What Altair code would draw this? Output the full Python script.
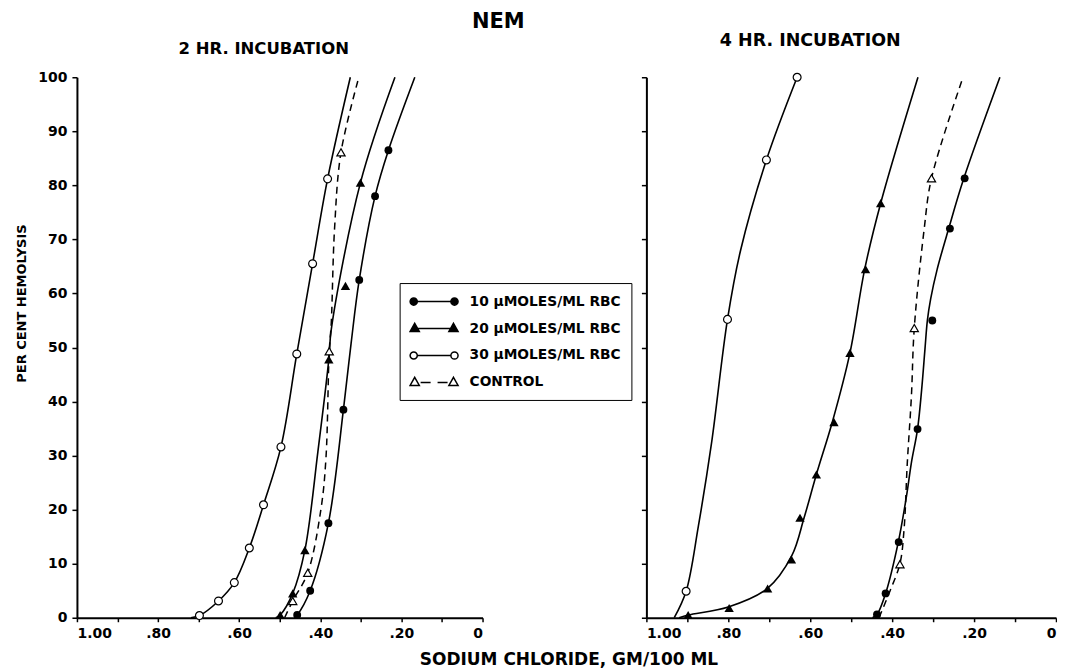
import altair as alt
import pandas as pd

FONT = "DejaVu Sans"

# ---------------- 2 HR. INCUBATION : measured points ----------------
h2_10_x = [0.457, 0.425, 0.380, 0.343, 0.304, 0.265, 0.232]
h2_10_y = [0.5, 5.0, 17.5, 38.5, 62.5, 78.0, 86.5]
h2_20_x = [0.499, 0.468, 0.438, 0.379, 0.338, 0.301]
h2_20_y = [0.5, 4.5, 12.5, 47.8, 61.4, 80.5]
h2_30_x = [0.698, 0.651, 0.612, 0.575, 0.540, 0.497, 0.458, 0.419, 0.382]
h2_30_y = [0.4, 3.1, 6.5, 12.9, 20.9, 31.6, 48.8, 65.5, 81.2]
h2_c_x = [0.468, 0.431, 0.378, 0.349]
h2_c_y = [3.1, 8.3, 49.3, 86.1]

# ---------------- 2 HR. INCUBATION : drawn curves ----------------
h2_10_cx = [0.464, 0.457, 0.425, 0.380, 0.343, 0.324, 0.304, 0.265, 0.232, 0.167]
h2_10_cy = [0, 0.5, 5, 17.5, 38.5, 50.8, 62.5, 78, 86.5, 100]
h2_20_cx = [0.510, 0.499, 0.468, 0.438, 0.406, 0.379, 0.373, 0.301, 0.216]
h2_20_cy = [0, 0.5, 4.5, 12.5, 30.7, 47.8, 53.3, 80.5, 100]
h2_30_cx = [0.719, 0.698, 0.651, 0.612, 0.575, 0.540, 0.497, 0.458, 0.419, 0.382, 0.326]
h2_30_cy = [0, 0.4, 3.1, 6.5, 12.9, 20.9, 31.6, 48.8, 65.5, 81.2, 100]
h2_c_cx = [0.488, 0.468, 0.431, 0.398, 0.386, 0.378, 0.373, 0.365, 0.349, 0.305]
h2_c_cy = [0, 3.1, 8.3, 20.3, 29.6, 49.3, 54.5, 71.8, 86.1, 100]

# ---------------- 4 HR. INCUBATION : measured points ----------------
h4_10_x = [0.437, 0.416, 0.384, 0.338, 0.302, 0.259, 0.223]
h4_10_y = [0.6, 4.5, 14.0, 34.9, 55.0, 72.0, 81.3]
h4_20_x = [0.898, 0.798, 0.704, 0.646, 0.625, 0.585, 0.542, 0.503, 0.465, 0.428]
h4_20_y = [0.5, 1.8, 5.4, 10.8, 18.5, 26.5, 36.2, 49.0, 64.5, 76.7]
h4_30_x = [0.903, 0.802, 0.707, 0.632]
h4_30_y = [4.9, 55.2, 84.7, 100.0]
h4_c_x = [0.381, 0.346, 0.304]
h4_c_y = [9.9, 53.6, 81.3]

# ---------------- 4 HR. INCUBATION : drawn curves ----------------
h4_10_cx = [0.448, 0.437, 0.416, 0.385, 0.365, 0.353, 0.338, 0.328, 0.320, 0.314,
            0.306, 0.290, 0.262, 0.225, 0.137]
h4_10_cy = [0, 0.6, 4.5, 14.0, 22.5, 28.7, 34.9, 42.2, 49.6, 55.0,
            59.0, 64.5, 72.0, 81.3, 100]
h4_20_cx = [0.920, 0.898, 0.800, 0.705, 0.645, 0.615, 0.585, 0.545, 0.503, 0.467, 0.428, 0.337]
h4_20_cy = [0, 0.5, 2.0, 5.4, 11.5, 18.5, 26.5, 36.5, 49.0, 64.5, 76.7, 100]
h4_30_cx = [0.932, 0.903, 0.873, 0.841, 0.802, 0.770, 0.707, 0.632]
h4_30_cy = [0, 4.9, 17.0, 32.3, 55.2, 68.0, 84.7, 100]
h4_c_cx = [0.432, 0.405, 0.381, 0.371, 0.363, 0.353, 0.346, 0.322, 0.304, 0.227]
h4_c_cy = [0, 5, 10, 16.3, 28.7, 41, 53.6, 71.8, 81.3, 100]

series_keys = ["10", "20", "30", "C"]
legend_labels = ["10 \u00b5MOLES/ML RBC", "20 \u00b5MOLES/ML RBC",
                 "30 \u00b5MOLES/ML RBC", "CONTROL"]
x_ticks = [0.0, 0.1, 0.2, 0.3, 0.4, 0.5, 0.6, 0.7, 0.8, 0.9, 1.0]
y_ticks = [0, 10, 20, 30, 40, 50, 60, 70, 80, 90, 100]


def df(xs, ys, s):
    return pd.DataFrame({"x": xs, "y": ys, "s": s})


# ---------- custom legend symbols (marker - line - marker) ----------
U = 7.5  # px per path unit for symbol size 225


def f(v):
    return f"{v / U:.3f}"


def circ(cx, r):
    return (f"M{f(cx - r)},0A{f(r)},{f(r)} 0 1,0 {f(cx + r)},0"
            f"A{f(r)},{f(r)} 0 1,0 {f(cx - r)},0Z")


def tri(cx, hb, top, bot):
    return f"M{f(cx)},{f(top)}L{f(cx + hb)},{f(bot)}L{f(cx - hb)},{f(bot)}Z"


def seg(a, b):
    return f"M{f(a)},0L{f(b)},0"


L_END, R_END, CR = -8.0, 40.0, 3.6
TH, TT, TB = 4.6, -5.2, 3.0
p_circle_solid = circ(L_END + CR, CR) + seg(L_END + 2 * CR, R_END - 2 * CR) + circ(R_END - CR, CR)
p_tri_solid = (tri(L_END + TH, TH, TT, TB) + seg(L_END + TH, R_END - TH)
               + tri(R_END - TH, TH, TT, TB))
edge = TH * (0 - TT) / (TB - TT)
lt, rt = L_END + TH, R_END - TH
p_tri_dash = (tri(lt, TH, TT, TB) + seg(lt + edge + 3, lt + edge + 13)
              + seg(rt - edge - 13, rt - edge - 3) + tri(rt, TH, TT, TB))
legend_paths = [p_circle_solid, p_tri_solid, p_circle_solid, p_tri_dash]
legend_fills = ["black", "black", "white", "white"]
legend_strokes = ["black", "black", "black", "black"]

x_label_expr = ("datum.value == 0 ? '0' : (round(datum.value*10) % 2 == 1 ? '' : "
                "(datum.value == 1 ? '1.00' : '.' + format(datum.value*100, '02d')))")


def make_panel(pts, curves, title, t_offset, t_dx, t_size, left):
    cdf = pd.concat([df(cx, cy, k) for k, (cx, cy) in zip(series_keys, curves)])
    pdf = pd.concat([df(px, py, k) for k, (px, py) in zip(series_keys, pts)])

    common_x = dict(
        values=x_ticks, labelExpr=x_label_expr, labelOverlap=False,
        tickSize=4, tickWidth=1.5, domainWidth=2, domainColor="black", tickColor="black",
        labelFont=FONT, labelFontSize=14, labelFontWeight="bold", labelColor="black",
        labelPadding=5, grid=False)
    if left:
        x_axis = alt.Axis(
            title="SODIUM  CHLORIDE, GM/100  ML",
            titleFont=FONT, titleFontSize=17, titleFontWeight="bold", titleColor="black",
            titleX=492, titleAlign="center", titlePadding=11, **common_x)
    else:
        x_axis = alt.Axis(title=None, **common_x)
    common_y = dict(values=y_ticks, tickSize=5, tickWidth=1.5, domainWidth=2,
                    domainColor="black", tickColor="black", grid=False)
    if left:
        y_axis = alt.Axis(
            labelFont=FONT, labelFontSize=14, labelFontWeight="bold",
            labelColor="black", labelPadding=5,
            title="PER CENT HEMOLYSIS", titleFont=FONT, titleFontSize=13,
            titleFontWeight="bold", titleColor="black", titleY=226, titlePadding=9,
            **common_y)
    else:
        y_axis = alt.Axis(labels=False, title=None, **common_y)

    xs = alt.Scale(domain=[0, 1], reverse=True, nice=False, zero=False)
    ys = alt.Scale(domain=[0, 100], nice=False, zero=False)
    X = alt.X("x:Q", scale=xs, axis=x_axis)
    Y = alt.Y("y:Q", scale=ys, axis=y_axis)

    base_c = alt.Chart(cdf)
    solid = base_c.transform_filter("datum.s != 'C'").mark_line(
        interpolate="catmull-rom", color="black", strokeWidth=1.6
    ).encode(x=X, y=Y, detail="s:N", order="y:Q")
    dashed = base_c.transform_filter("datum.s == 'C'").mark_line(
        interpolate="catmull-rom", color="black", strokeWidth=1.5, strokeDash=[7, 5]
    ).encode(x=X, y=Y, order="y:Q")

    base_p = alt.Chart(pdf)
    m10 = base_p.transform_filter("datum.s == '10'").mark_point(
        shape="circle", filled=True, color="black", size=62, opacity=1).encode(x=X, y=Y)
    m20 = base_p.transform_filter("datum.s == '20'").mark_point(
        shape="triangle-up", filled=True, color="black", size=88, opacity=1).encode(x=X, y=Y)
    m30 = base_p.transform_filter("datum.s == '30'").mark_point(
        shape="circle", filled=True, fill="white", stroke="black", strokeWidth=1.2,
        size=62, opacity=1).encode(x=X, y=Y)
    mc = base_p.transform_filter("datum.s == 'C'").mark_point(
        shape="triangle-up", filled=True, fill="white", stroke="black", strokeWidth=1.2,
        size=68, opacity=1).encode(x=X, y=Y)

    layers = [solid, dashed, m10, m20, m30, mc]

    if left:
        leg_df = pd.DataFrame({"lab": legend_labels,
                               "x": [p[0][0] for p in pts],
                               "y": [p[1][0] for p in pts]})
        leg_kw = dict(
            title=None, orient="none", legendX=323, legendY=206,
            strokeColor="black", fillColor="white", padding=10,
            symbolSize=225, labelOffset=43, rowPadding=11,
            symbolStrokeWidth=1.5, symbolOpacity=1,
            labelFont=FONT, labelFontSize=13.8, labelFontWeight="bold", labelColor="black",
            labelLimit=300,
        )
        leg = alt.Chart(leg_df).mark_point(opacity=0, filled=False, strokeWidth=1.5).encode(
            x=alt.X("x:Q", scale=xs, axis=x_axis),
            y=alt.Y("y:Q", scale=ys, axis=y_axis),
            shape=alt.Shape("lab:N", scale=alt.Scale(domain=legend_labels, range=legend_paths),
                            legend=alt.Legend(**leg_kw)),
            fill=alt.Fill("lab:N", scale=alt.Scale(domain=legend_labels, range=legend_fills),
                          legend=alt.Legend(**leg_kw)),
            stroke=alt.Stroke("lab:N", scale=alt.Scale(domain=legend_labels, range=legend_strokes),
                              legend=alt.Legend(**leg_kw)),
        )
        layers.append(leg)

    return alt.layer(*layers).properties(
        width=406 if left else 410, height=541,
        title=alt.TitleParams(title, font=FONT, fontSize=t_size, fontWeight="bold",
                              color="black", anchor="middle", dx=t_dx, offset=t_offset),
    )


left = make_panel(
    [(h2_10_x, h2_10_y), (h2_20_x, h2_20_y), (h2_30_x, h2_30_y), (h2_c_x, h2_c_y)],
    [(h2_10_cx, h2_10_cy), (h2_20_cx, h2_20_cy), (h2_30_cx, h2_30_cy), (h2_c_cx, h2_c_cy)],
    "2 HR. INCUBATION", 13, -16, 16.5, True)
right = make_panel(
    [(h4_10_x, h4_10_y), (h4_20_x, h4_20_y), (h4_30_x, h4_30_y), (h4_c_x, h4_c_y)],
    [(h4_10_cx, h4_10_cy), (h4_20_cx, h4_20_cy), (h4_30_cx, h4_30_cy), (h4_c_cx, h4_c_cy)],
    "4 HR. INCUBATION", 21, -41, 17.5, False)

chart = alt.hconcat(left, right, spacing=164, bounds="flush").properties(
    title=alt.TitleParams("NEM", font=FONT, fontSize=21, fontWeight="bold", color="black",
                          anchor="middle", dx=-38, offset=0),
    padding={"left": 7, "top": 3, "right": 0, "bottom": 0},
    background="white",
).resolve_legend(shape="independent", fill="independent",
                 stroke="independent").configure_view(stroke=None)

chart.save("out.html", embed_options={"renderer": "svg", "actions": False})
